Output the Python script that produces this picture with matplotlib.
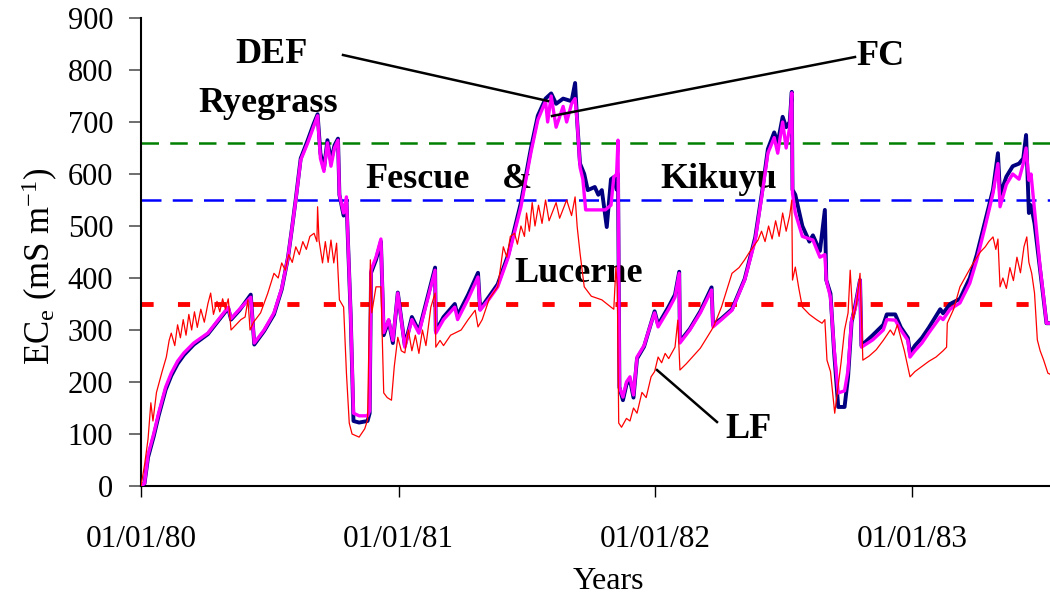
import numpy as np
import matplotlib
matplotlib.use("Agg")
import matplotlib.pyplot as plt
import matplotlib.dates as mdates

plt.rcParams['font.family'] = ['Liberation Serif', 'DejaVu Serif']
plt.rcParams['mathtext.fontset'] = 'custom'
plt.rcParams['mathtext.rm'] = 'Liberation Serif'
plt.rcParams['mathtext.it'] = 'Liberation Serif:italic'

start_date = np.datetime64('1980-01-01')

# ---- DEF (navy) : (day offset from 01/01/80, ECe)
def_days = [0, 5, 10, 18, 25, 35, 43, 52, 61, 75, 95, 110, 124, 128, 140, 156, 161, 175, 189, 200,
            209, 215, 220, 227, 237, 245, 251, 255, 260, 265, 270, 275, 280, 282, 288, 292, 298, 302, 310, 322,
            325, 327, 334, 341, 345, 352, 358, 365, 375, 385, 395, 412, 418, 419, 430, 446, 450, 465, 479, 482,
            495, 507, 522, 540, 554, 564, 575, 583, 590, 600, 612, 617, 620, 624, 630, 635, 645, 650, 655, 662,
            668, 672, 676, 678, 680, 685, 690, 695, 700, 705, 715, 725, 730, 735, 750, 759, 765, 766, 780, 795,
            811, 813, 825, 840, 858, 873, 883, 891, 900, 905, 912, 917, 922, 925, 926, 930, 940, 950, 955, 965,
            972, 974, 980, 985, 991, 1000, 1005, 1010, 1015, 1022, 1024, 1040, 1055, 1060, 1072, 1080, 1090, 1093, 1100, 1110,
            1120, 1136, 1140, 1150, 1164, 1178, 1188, 1200, 1211, 1218, 1221, 1230, 1239, 1248, 1254, 1258, 1262, 1265, 1270, 1278,
            1283, 1287, 1292]
def_vals = [0, 5, 55, 95, 135, 185, 212, 235, 252, 272, 292, 318, 342, 320, 338, 368, 272, 298, 330, 378,
            440, 500, 552, 630, 665, 695, 715, 640, 610, 665, 625, 655, 668, 560, 520, 550, 330, 125, 122, 125,
            140, 410, 435, 470, 290, 318, 275, 372, 270, 325, 298, 388, 420, 298, 325, 350, 328, 368, 410, 340,
            365, 388, 445, 545, 648, 712, 745, 755, 735, 745, 740, 775, 700, 620, 600, 569, 575, 560, 569, 498,
            590, 594, 570, 600, 190, 165, 195, 205, 170, 245, 268, 313, 336, 310, 345, 368, 412, 278, 302, 336,
            382, 310, 322, 340, 398, 478, 568, 648, 680, 660, 710, 690, 700, 758, 570, 560, 500, 470, 482, 452,
            531, 396, 370, 260, 152, 152, 210, 315, 345, 396, 270, 290, 310, 330, 330, 305, 285, 255, 270, 285,
            305, 340, 332, 350, 360, 400, 445, 510, 570, 640, 560, 595, 615, 620, 630, 675, 525, 540, 505, 415,
            360, 313, 313]

# ---- FC (magenta)
fc_days = [0, 5, 10, 18, 25, 35, 43, 52, 61, 75, 95, 110, 124, 128, 140, 156, 161, 175, 189, 200,
           209, 215, 220, 227, 237, 245, 251, 255, 260, 265, 270, 275, 280, 282, 288, 292, 298, 302, 310, 322,
           325, 327, 334, 341, 345, 352, 358, 365, 375, 385, 395, 412, 418, 419, 430, 446, 450, 465, 479, 482,
           495, 507, 522, 540, 554, 564, 575, 578, 583, 590, 600, 605, 612, 617, 620, 624, 628, 632, 660, 668,
           672, 676, 678, 680, 685, 690, 695, 700, 705, 715, 725, 730, 735, 750, 759, 765, 766, 780, 795, 811,
           813, 825, 840, 858, 873, 883, 891, 900, 905, 912, 917, 922, 925, 926, 930, 940, 955, 965, 972, 974,
           980, 985, 991, 1000, 1005, 1010, 1015, 1022, 1024, 1040, 1055, 1060, 1072, 1080, 1090, 1093, 1100, 1110, 1120, 1136,
           1140, 1150, 1164, 1178, 1188, 1200, 1211, 1218, 1221, 1230, 1239, 1248, 1254, 1258, 1262, 1265, 1270, 1278, 1283, 1287,
           1292]
fc_vals = [0, 5, 60, 100, 140, 190, 217, 240, 256, 275, 294, 320, 344, 322, 340, 363, 275, 300, 333, 380,
           440, 500, 550, 627, 660, 690, 712, 630, 605, 660, 615, 650, 665, 560, 525, 556, 330, 140, 135, 135,
           145, 415, 440, 475, 295, 320, 280, 371, 267, 320, 294, 383, 415, 294, 320, 344, 320, 360, 402, 338,
           360, 383, 440, 537, 640, 704, 740, 700, 750, 690, 730, 700, 735, 745, 700, 613, 590, 531, 531, 540,
           594, 600, 665, 190, 171, 200, 210, 175, 248, 270, 313, 333, 306, 340, 363, 409, 275, 300, 333, 377,
           306, 320, 338, 396, 473, 563, 640, 670, 640, 700, 650, 690, 756, 563, 525, 480, 473, 440, 445, 396,
           363, 267, 179, 183, 223, 319, 340, 396, 267, 281, 300, 320, 319, 300, 280, 248, 260, 275, 295, 325,
           320, 340, 352, 390, 435, 500, 563, 620, 537, 580, 600, 590, 620, 650, 588, 600, 530, 420, 363, 313,
           313]

# ---- LF (red)
lf_days = [0, 5, 10, 14, 17, 22, 30, 36, 40, 43, 48, 52, 56, 60, 64, 68, 72, 76, 80, 85,
           90, 95, 99, 103, 108, 112, 116, 120, 124, 128, 135, 142, 148, 152, 155, 160, 170, 180, 189, 195,
           200, 205, 210, 215, 220, 225, 230, 235, 240, 246, 250, 251, 253, 258, 262, 266, 270, 274, 278, 282,
           288, 292, 296, 300, 310, 318, 322, 326, 328, 334, 341, 345, 350, 356, 360, 365, 370, 375, 380, 385,
           390, 395, 400, 405, 412, 418, 419, 425, 430, 440, 446, 455, 465, 475, 479, 485, 495, 507, 511, 515,
           520, 525, 531, 535, 540, 545, 548, 552, 556, 560, 565, 570, 575, 580, 590, 595, 605, 612, 617, 620,
           624, 630, 640, 655, 668, 672, 675, 677, 679, 683, 690, 695, 700, 705, 712, 718, 725, 730, 735, 740,
           745, 750, 759, 763, 766, 775, 785, 795, 811, 815, 825, 840, 850, 858, 865, 877, 882, 887, 892, 897,
           902, 907, 912, 917, 922, 925, 926, 930, 935, 940, 950, 960, 968, 972, 975, 980, 986, 990, 995, 1000,
           1005, 1008, 1012, 1017, 1022, 1026, 1035, 1045, 1055, 1065, 1070, 1075, 1085, 1093, 1100, 1110, 1120, 1130, 1140, 1145,
           1146, 1155, 1164, 1175, 1183, 1193, 1200, 1205, 1211, 1215, 1218, 1221, 1225, 1230, 1235, 1240, 1245, 1250, 1255, 1259,
           1262, 1266, 1270, 1274, 1278, 1283, 1289, 1292]
lf_vals = [0, 40, 90, 160, 125, 180, 220, 248, 280, 294, 270, 310, 285, 320, 290, 330, 300, 335, 305, 340,
           315, 350, 371, 330, 355, 335, 360, 340, 360, 300, 310, 320, 325, 358, 300, 315, 333, 370, 409, 400,
           429, 415, 445, 430, 460, 445, 470, 455, 480, 486, 470, 537, 473, 429, 470, 430, 473, 429, 467, 358,
           344, 217, 121, 100, 94, 110, 127, 435, 333, 383, 383, 179, 170, 165, 230, 286, 260, 256, 300, 260,
           290, 255, 300, 270, 344, 371, 267, 280, 270, 290, 294, 300, 320, 338, 306, 320, 360, 383, 420, 460,
           440, 480, 486, 465, 500, 480, 525, 490, 545, 500, 540, 505, 550, 510, 545, 515, 550, 520, 556, 498,
           448, 383, 365, 358, 344, 340, 421, 383, 121, 113, 130, 125, 150, 140, 180, 170, 210, 220, 248, 237,
           255, 245, 267, 319, 223, 235, 250, 265, 300, 310, 344, 409, 420, 435, 450, 473, 490, 470, 500, 475,
           510, 480, 525, 490, 520, 550, 396, 421, 380, 344, 330, 320, 313, 320, 242, 220, 140, 183, 237, 300,
           333, 415, 320, 350, 409, 242, 250, 262, 280, 300, 290, 310, 260, 210, 220, 230, 240, 248, 260, 267,
           313, 340, 383, 410, 429, 450, 460, 470, 479, 455, 475, 383, 400, 380, 420, 395, 440, 410, 460, 479,
           430, 409, 371, 281, 260, 242, 217, 215]

# thresholds
threshold_vals = [660, 550, 350]
threshold_colors = ['#008000', '#0000FF', '#FF0000']

tick_years = ['1980-01-01', '1981-01-01', '1982-01-01', '1983-01-01']
y_ticks = list(range(0, 901, 100))


def to_dates(days):
    return start_date + np.array(days, dtype='timedelta64[D]')


fig = plt.figure(figsize=(10.5, 6.03), dpi=100)
ax = fig.add_axes([141 / 1050, 1 - 486 / 603, 909 / 1050, 468 / 603])

ax.plot(to_dates(def_days), def_vals, color='#000080', lw=2.8, zorder=3)
ax.plot(to_dates(fc_days), fc_vals, color='#FF00FF', lw=2.4, zorder=4)
ax.plot(to_dates(lf_days), lf_vals, color='#FF0000', lw=0.9, zorder=5)

ax.axhline(threshold_vals[0], color=threshold_colors[0], lw=1.8, dashes=(7, 4.5), zorder=2)
ax.axhline(threshold_vals[1], color=threshold_colors[1], lw=1.8, dashes=(8, 4.5), zorder=2)
ax.axhline(threshold_vals[2], color=threshold_colors[2], lw=3.5, dashes=(2.5, 5), zorder=2)

ax.set_xlim(start_date, start_date + np.timedelta64(1292, 'D'))
ax.set_ylim(0, 900)
ax.set_yticks(y_ticks)
ax.set_xticks([np.datetime64(d) for d in tick_years])
ax.xaxis.set_major_formatter(mdates.DateFormatter('%d/%m/%y'))

for s in ['top', 'right']:
    ax.spines[s].set_visible(False)
for s in ['left', 'bottom']:
    ax.spines[s].set_linewidth(1.5)
ax.tick_params(axis='y', direction='out', length=9, width=1.2, color='#555555', labelsize=22, pad=11)
ax.tick_params(axis='x', direction='out', length=8, width=1.0, labelsize=22.5, pad=20)

ax.text(0.514, -0.205, 'Years', transform=ax.transAxes, ha='center', va='center', fontsize=23)
ax.text(-0.111, 0.47, r'EC$_\mathrm{e}$ (mS m$^{-1}$)', transform=ax.transAxes, rotation=90,
        ha='center', va='center', fontsize=25)

bold = dict(fontsize=26, fontweight='bold', transform=ax.transAxes, ha='center', va='center')
ax.text(0.144, 0.921, 'DEF', **bold)
ax.text(0.140, 0.818, 'Ryegrass', **bold)
ax.text(0.813, 0.917, 'FC', **bold)
ax.text(0.304, 0.654, 'Fescue', **bold)
ax.text(0.414, 0.654, '&', **bold)
ax.text(0.635, 0.654, 'Kikuyu', **bold)
ax.text(0.481, 0.453, 'Lucerne', **bold)
ax.text(0.668, 0.120, 'LF', **bold)


def frac(px, py):
    return ((px - 141) / 909, (486 - py) / 468)


for (a, b) in [((343, 55), (548, 101)), ((855, 57), (552, 116)), ((717, 422), (657, 370))]:
    p0 = frac(*a)
    p1 = frac(*b)
    ax.plot([p0[0], p1[0]], [p0[1], p1[1]], color='black', lw=1.8, transform=ax.transAxes, zorder=6,
            clip_on=False)

fig.savefig('out.png', dpi=100)
